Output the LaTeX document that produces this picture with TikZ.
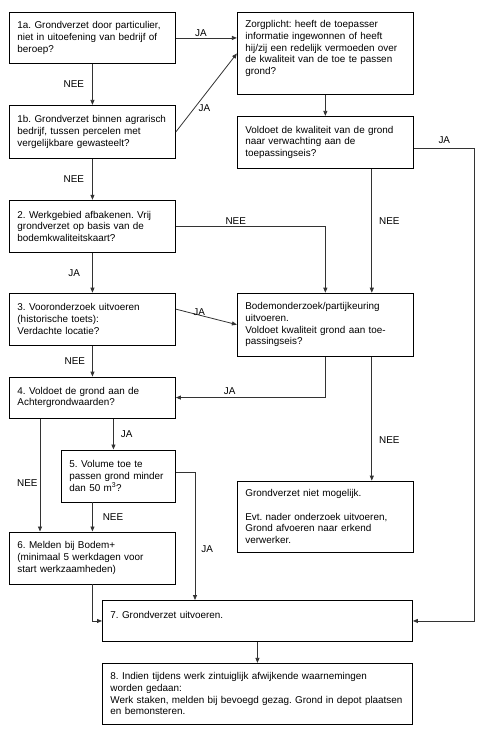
\documentclass[tikz,border=0pt]{standalone}
\usepackage{fontspec}
\setmainfont{Liberation Sans}
\frenchspacing
\usetikzlibrary{%
	arrows.meta,%
	positioning,%
}
\tikzset{
	>={Triangle[length=5pt,width=4pt]},%
	nodes={align=left},%
	stap/.style={%
			draw,%
			rectangle,%
			line width=0.9pt,%
			inner xsep=8pt,%
			inner ysep=0pt,%
			text width=#1,%
			fill=white},%
	onder/.style={%
			execute at end node={\par\vspace*{#1}}},%
	pijl/.style={%
			->,%
			line width=0.8pt,%
			draw=black!80},%
	keuze/.style={%
			inner sep=1pt},%
}

\begin{document}
\begin{tikzpicture}[x=1pt, y=-1pt, nodes={font={\fontsize{9.9}{11.7}\selectfont}}]%
	\useasboundingbox (0,0) rectangle (494,732);

	\node[stap=150pt, minimum height=51pt, anchor=north west] (g1a) at (9,12) {1a. Grondverzet door particulier,\\
		niet in uitoefening van bedrijf of\\
		beroep?};

	\node[stap=150pt, minimum height=53pt] (g1b) [below=41pt of g1a] {1b. Grondverzet binnen agrarisch\\
		bedrijf, tussen percelen met\\
		vergelijkbare gewasteelt?};

	\node[stap=150pt, minimum height=52pt] (wg) [below=41pt of g1b] {2. Werkgebied afbakenen. Vrij\\
		grondverzet op basis van de\\
		bodemkwaliteitskaart?};

	\node[stap=150pt, minimum height=52pt] (vo) [below=40pt of wg] {3. Vooronderzoek uitvoeren\\
		(historische toets):\\
		Verdachte locatie?};

	\node[stap=150pt, minimum height=41pt] (agw) [below=31pt of vo] {4. Voldoet de grond aan de\\
		Achtergrondwaarden?};

	\node[stap=98pt, minimum height=52pt] (vol) [below=31pt of agw.south east, anchor=north east] {5. Volume toe te\\
		passen grond minder\\
		dan 50 m\textsuperscript{3}?};

	\node[stap=150pt, minimum height=52pt] (mld) [below=113pt of agw] {6. Melden bij Bodem+\\
		(minimaal 5 werkdagen voor\\
		start werkzaamheden)};

	\node[stap=160pt, minimum height=82pt, onder=10pt] (zp) [right=61pt of g1a.north east, anchor=north west] {Zorgplicht: heeft de toepasser\\
		informatie ingewonnen of heeft\\
		hij/zij een redelijk vermoeden over\\
		de kwaliteit van de toe te passen\\
		grond?};

	\node[stap=160pt, minimum height=52pt] (vk) [below=21pt of zp] {Voldoet de kwaliteit van de grond\\
		naar verwachting aan de\\
		toepassingseis?};

	\node[stap=160pt, minimum height=63pt] (bo) [right=61pt of vo.north east, anchor=north west] {Bodemonderzoek/partijkeuring\\
		uitvoeren.\\
		Voldoet kwaliteit grond aan toe-\\
		passingseis?};

	\node[stap=160pt, minimum height=71pt] (nm) [below=124pt of bo] {Grondverzet niet mogelijk.\\[11.7pt]
		Evt. nader onderzoek uitvoeren,\\
		Grond afvoeren naar erkend\\
		verwerker.};

	\node[stap=294pt, minimum height=41pt, onder=12pt, anchor=north west] (uit) at (102,600) {7. Grondverzet uitvoeren.};

	\node[stap=294pt, minimum height=61pt] (wn) [below=21pt of uit] {8. Indien tijdens werk zintuiglijk afwijkende waarnemingen\\
		worden gedaan:\\
		Werk staken, melden bij bevoegd gezag. Grond in depot plaatsen\\
		en bemonsteren.};

	\coordinate (vj) at ([xshift=-5pt]vol.north);

	\draw[pijl] (g1a) -- node[keuze, above, pos=0.41] {JA} (g1a -| zp.west);
	\draw[pijl] (g1a) -- node[keuze, left=7pt] {NEE} (g1b);
	\draw[pijl] (g1b.east) -- node[keuze, right=3pt, pos=0.3] {JA} (zp.west);
	\draw[pijl] (g1b) -- node[keuze, left=7pt] {NEE} (wg);
	\draw[pijl] (zp) -- (vk);
	\draw[pijl] ([yshift=-6pt]vk.east) -- node[keuze, above=3pt] {JA} ++(61,0) |- (uit.east);
	\draw[pijl] ([xshift=-42pt]vk.south east) -- node[keuze, right=6pt, pos=0.42] {NEE} ([xshift=-42pt]bo.north east);
	\draw[pijl] (wg.east) -| node[keuze, above, pos=0.2] {NEE} (bo.north);
	\draw[pijl] (wg) -- node[keuze, left=11pt] {JA} (vo);
	\draw[pijl] ([yshift=10pt]vo.east) -- node[keuze, above=-2pt, pos=0.38] {JA} (bo.west);
	\draw[pijl] (vo) -- node[keuze, left=6pt] {NEE} (agw);
	\draw[pijl] (bo.south) |- node[keuze, above=2pt, pos=0.82] {JA} (agw.east);
	\draw[pijl] ([xshift=-42pt]bo.south east) -- node[keuze, right=6pt, pos=0.67] {NEE} ([xshift=-42pt]nm.north east);
	\draw[pijl] (vj |- agw.south) -- node[keuze, right=6pt] {JA} (vj);
	\draw[pijl] ([xshift=31pt]agw.south west) -- node[keuze, left=1pt, pos=0.57] {NEE} ([xshift=31pt]mld.north west);
	\draw[pijl] (vol.south -| mld.north) -- node[keuze, right=9pt] {NEE} (mld.north);
	\draw[pijl] ([yshift=4pt]vol.east) -| node[keuze, right=5pt, pos=0.8] {JA} ([xshift=93pt]uit.north west);
	\draw[pijl] (mld.south) |- (uit.west);
	\draw[pijl] (uit) -- (wn);
\end{tikzpicture}
\end{document}
